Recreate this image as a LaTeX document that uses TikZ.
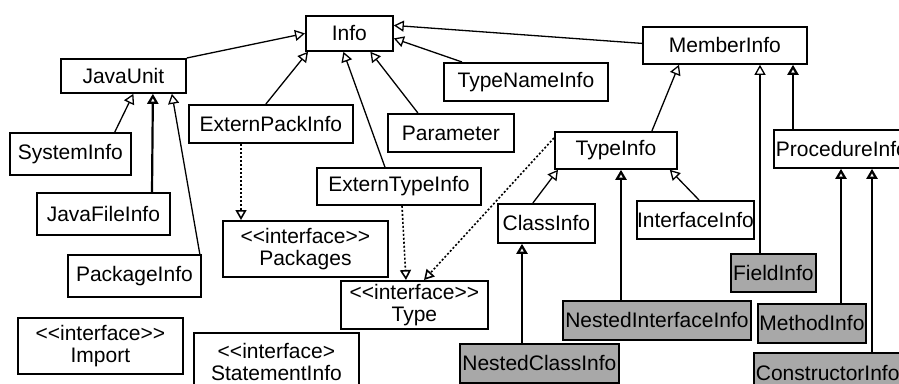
\documentclass[tikz,border=0pt]{standalone}
\usepackage{fontspec}
\setmainfont[Ligatures=TeXOff]{Liberation Sans}
\usetikzlibrary{arrows.meta}
\definecolor{boxgray}{RGB}{168,168,168}
\begin{document}
\begin{tikzpicture}[x=1pt,y=-1pt,
  cls/.style={draw, line width=1.8pt, inner sep=0pt, anchor=north west,
    font=\fontsize{21}{22}\selectfont, align=center},
  nested/.style={cls, fill=boxgray},
  gen/.style={-{Triangle[open,length=10pt,width=11pt]}, line width=1.3pt},
  genthick/.style={gen, line width=2.2pt},
  real/.style={-{Triangle[open,length=10pt,width=11pt]}, line width=1.6pt, dash pattern=on 2pt off 2pt}
]
\clip (0,0) rectangle (899,383);
\fill[white] (0,0) rectangle (899,383);
% boxes
\node[cls, minimum width=87pt, minimum height=35pt] (Info) at (305,15) {Info};
\node[cls, minimum width=125pt, minimum height=34pt] (JavaUnit) at (60,58) {JavaUnit};
\node[cls, minimum width=164pt, minimum height=38pt] (ExternPackInfo) at (188,104) {ExternPackInfo};
\node[cls, minimum width=121pt, minimum height=42pt] (SystemInfo) at (9,132) {SystemInfo};
\node[cls, minimum width=126pt, minimum height=38pt] (Parameter) at (387,113) {Parameter};
\node[cls, minimum width=164pt, minimum height=37pt] (ExternTypeInfo) at (316,167) {ExternTypeInfo};
\node[cls, minimum width=164pt, minimum height=38pt] (TypeNameInfo) at (443,62) {TypeNameInfo};
\node[cls, minimum width=164pt, minimum height=37pt] (MemberInfo) at (642,26) {MemberInfo};
\node[cls, minimum width=122pt, minimum height=37pt] (TypeInfo) at (554,131) {TypeInfo};
\node[cls, minimum height=38pt] (ProcedureInfo) at (773,129) {\makebox[140pt][l]{\hspace{2pt}ProcedureInfo}};
\node[cls, minimum width=133pt, minimum height=42pt] (JavaFileInfo) at (36,192) {JavaFileInfo};
\node[cls, minimum width=133pt, minimum height=42pt] (PackageInfo) at (67,254) {PackageInfo};
\node[cls, minimum width=165pt, minimum height=56pt] (Packages) at (222,220) {<<interface>>\\Packages};
\node[cls, minimum width=147pt, minimum height=48pt] (Type) at (340,280) {<<interface>>\\Type};
\node[cls, minimum width=165pt, minimum height=56pt] (Import) at (17,317) {<<interface>>\\Import};
\node[cls, minimum width=165pt, minimum height=58pt] (StatementInfo) at (193,332) {<<interface>\\StatementInfo};
\node[cls, minimum width=97pt, minimum height=39pt] (ClassInfo) at (497,203) {ClassInfo};
\node[cls, minimum width=117pt, minimum height=38pt] (InterfaceInfo) at (636,200) {InterfaceInfo};
\node[nested, minimum width=85pt, minimum height=38pt] (FieldInfo) at (730,253) {FieldInfo};
\node[nested, minimum width=188pt, minimum height=39pt] (NestedInterfaceInfo) at (562,300) {NestedInterfaceInfo};
\node[nested, minimum width=108pt, minimum height=39pt] (MethodInfo) at (757,303) {MethodInfo};
\node[nested, minimum width=159pt, minimum height=39pt] (NestedClassInfo) at (459,343) {NestedClassInfo};
\node[nested, minimum height=40pt] (ConstructorInfo) at (753,352) {\makebox[160pt][l]{\hspace{2pt}ConstructorInfo}};
% generalizations
\draw[gen] (JavaUnit.north east) -- (Info.west);
\draw[gen] ([xshift=-5pt]ExternPackInfo.north) -- ([xshift=3pt]Info.south west);
\draw[gen] ([xshift=-14pt]ExternTypeInfo.north) -- ([xshift=-6pt]Info.south);
\draw[gen] ([xshift=-33pt]Parameter.north) -- ([xshift=21pt]Info.south);
\draw[gen] ([xshift=19pt]TypeNameInfo.north west) -- ([yshift=-5pt]Info.east);
\draw[gen] ([yshift=2pt]MemberInfo.west) -- ([yshift=8pt]Info.east);
\draw[gen] ([xshift=-17pt]SystemInfo.north east) -- ([xshift=10pt]JavaUnit.south);
\draw[genthick] ([xshift=116pt]JavaFileInfo.north west) -- ([xshift=29.5pt]JavaUnit.south);
\draw[gen] ([xshift=-2pt]PackageInfo.north east) -- ([xshift=48.5pt]JavaUnit.south);
\draw[gen] ([xshift=36pt]TypeInfo.north) -- ([xshift=37pt]MemberInfo.south west);
\draw[gen] ([xshift=-13.5pt]ClassInfo.north) -- ([xshift=4pt]TypeInfo.south west);
\draw[genthick] ([xshift=59pt]NestedInterfaceInfo.north west) -- ([xshift=67pt]TypeInfo.south west);
\draw[gen] ([xshift=63pt]InterfaceInfo.north west) -- ([xshift=-8pt]TypeInfo.south east);
\draw[gen] ([xshift=30pt]FieldInfo.north west) -- ([xshift=118pt]MemberInfo.south west);
\draw[genthick] ([xshift=20pt]ProcedureInfo.north west) -- ([xshift=151pt]MemberInfo.south west);
\draw[genthick] ([xshift=84pt]MethodInfo.north west) -- ([xshift=68pt]ProcedureInfo.south west);
\draw[genthick] ([xshift=119pt]ConstructorInfo.north west) -- ([xshift=99pt]ProcedureInfo.south west);
\draw[genthick] ([xshift=63pt]NestedClassInfo.north west) -- ([xshift=25pt]ClassInfo.south west);
% realizations
\draw[real] ([xshift=53pt]ExternPackInfo.south west) -- ([xshift=19pt]Packages.north west);
\draw[real] ([xshift=86pt]ExternTypeInfo.south west) -- ([xshift=66pt]Type.north west);
\draw[real] ([yshift=-7pt]TypeInfo.north west) -- ([xshift=84pt]Type.north west);
\end{tikzpicture}
\end{document}
